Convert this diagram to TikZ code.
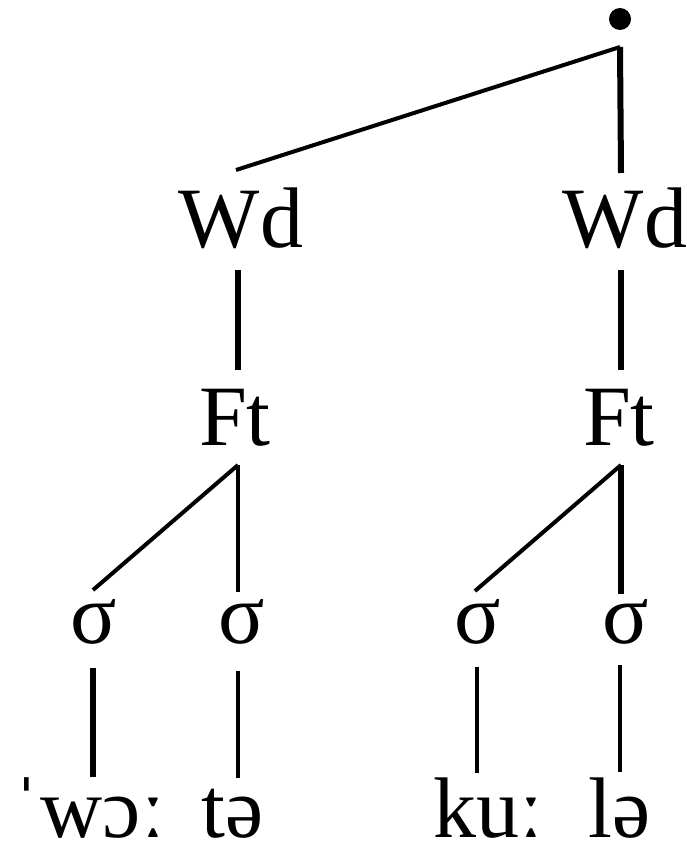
\documentclass[tikz,border=0pt]{standalone}
\usepackage{fontspec}
\setmainfont{Liberation Serif}
\begin{document}
\begin{tikzpicture}[x=1pt,y=-1pt,
  lab/.style={inner sep=0pt,anchor=base,font=\fontsize{86}{86}\selectfont},
  seg/.style={inner sep=0pt,anchor=base west,font=\fontsize{86}{86}\selectfont},
  stem/.style={line width=6pt},
  branch/.style={line width=4pt}]
\useasboundingbox (0,0) rectangle (687,843);

% root of the phrase
\fill (620,19) circle (11);
\coordinate (root) at (620,47);

% word level
\node[lab] (wdL) at (241,247) {Wd};
\node[lab] (wdR) at (625,247) {Wd};
\coordinate (wdL-top) at (236,170);
\coordinate (wdR-top) at (621,173);
\coordinate (wdL-bot) at (238,270);
\coordinate (wdR-bot) at (621,270);

% foot level
\node[lab] (ftL) at (235,445) {Ft};
\node[lab] (ftR) at (619,445) {Ft};
\coordinate (ftL-top) at (238,370);
\coordinate (ftR-top) at (621,370);
\coordinate (ftL-bot) at (238,465);
\coordinate (ftR-bot) at (621,465);

% syllables
\node[lab] (s1) at (94,643) {σ};
\node[lab] (s2) at (242,643) {σ};
\node[lab] (s3) at (478,643) {σ};
\node[lab] (s4) at (626,643) {σ};
\coordinate (s1-top) at (93,590);
\coordinate (s2-top) at (238,592);
\coordinate (s3-top) at (475,591);
\coordinate (s4-top) at (621,594);
\coordinate (s1-bot) at (93,668);
\coordinate (s2-bot) at (238,671);
\coordinate (s3-bot) at (477,667);
\coordinate (s4-bot) at (620,665);

% segmental strings
\node[seg] (w1) at (12,837) {ˈwɔː};
\node[seg] (w2) at (201,837) {tə};
\node[seg] (w3) at (433,837) {kuː};
\node[seg] (w4) at (588,837) {lə};
\coordinate (w1-top) at (93,777);
\coordinate (w2-top) at (238,778);
\coordinate (w3-top) at (477,773);
\coordinate (w4-top) at (620,772);

% association lines
\draw[branch] (root) -- (wdL-top);
\draw[stem] (root) -- (wdR-top);
\draw[stem] (wdL-bot) -- (ftL-top);
\draw[stem] (wdR-bot) -- (ftR-top);
\draw[branch] (ftL-bot) -- (s1-top);
\draw[branch] (ftL-bot) -- (s2-top);
\draw[branch] (ftR-bot) -- (s3-top);
\draw[stem] (ftR-bot) -- (s4-top);
\draw[stem] (s1-bot) -- (w1-top);
\draw[branch] (s2-bot) -- (w2-top);
\draw[branch] (s3-bot) -- (w3-top);
\draw[branch] (s4-bot) -- (w4-top);
\end{tikzpicture}
\end{document}
